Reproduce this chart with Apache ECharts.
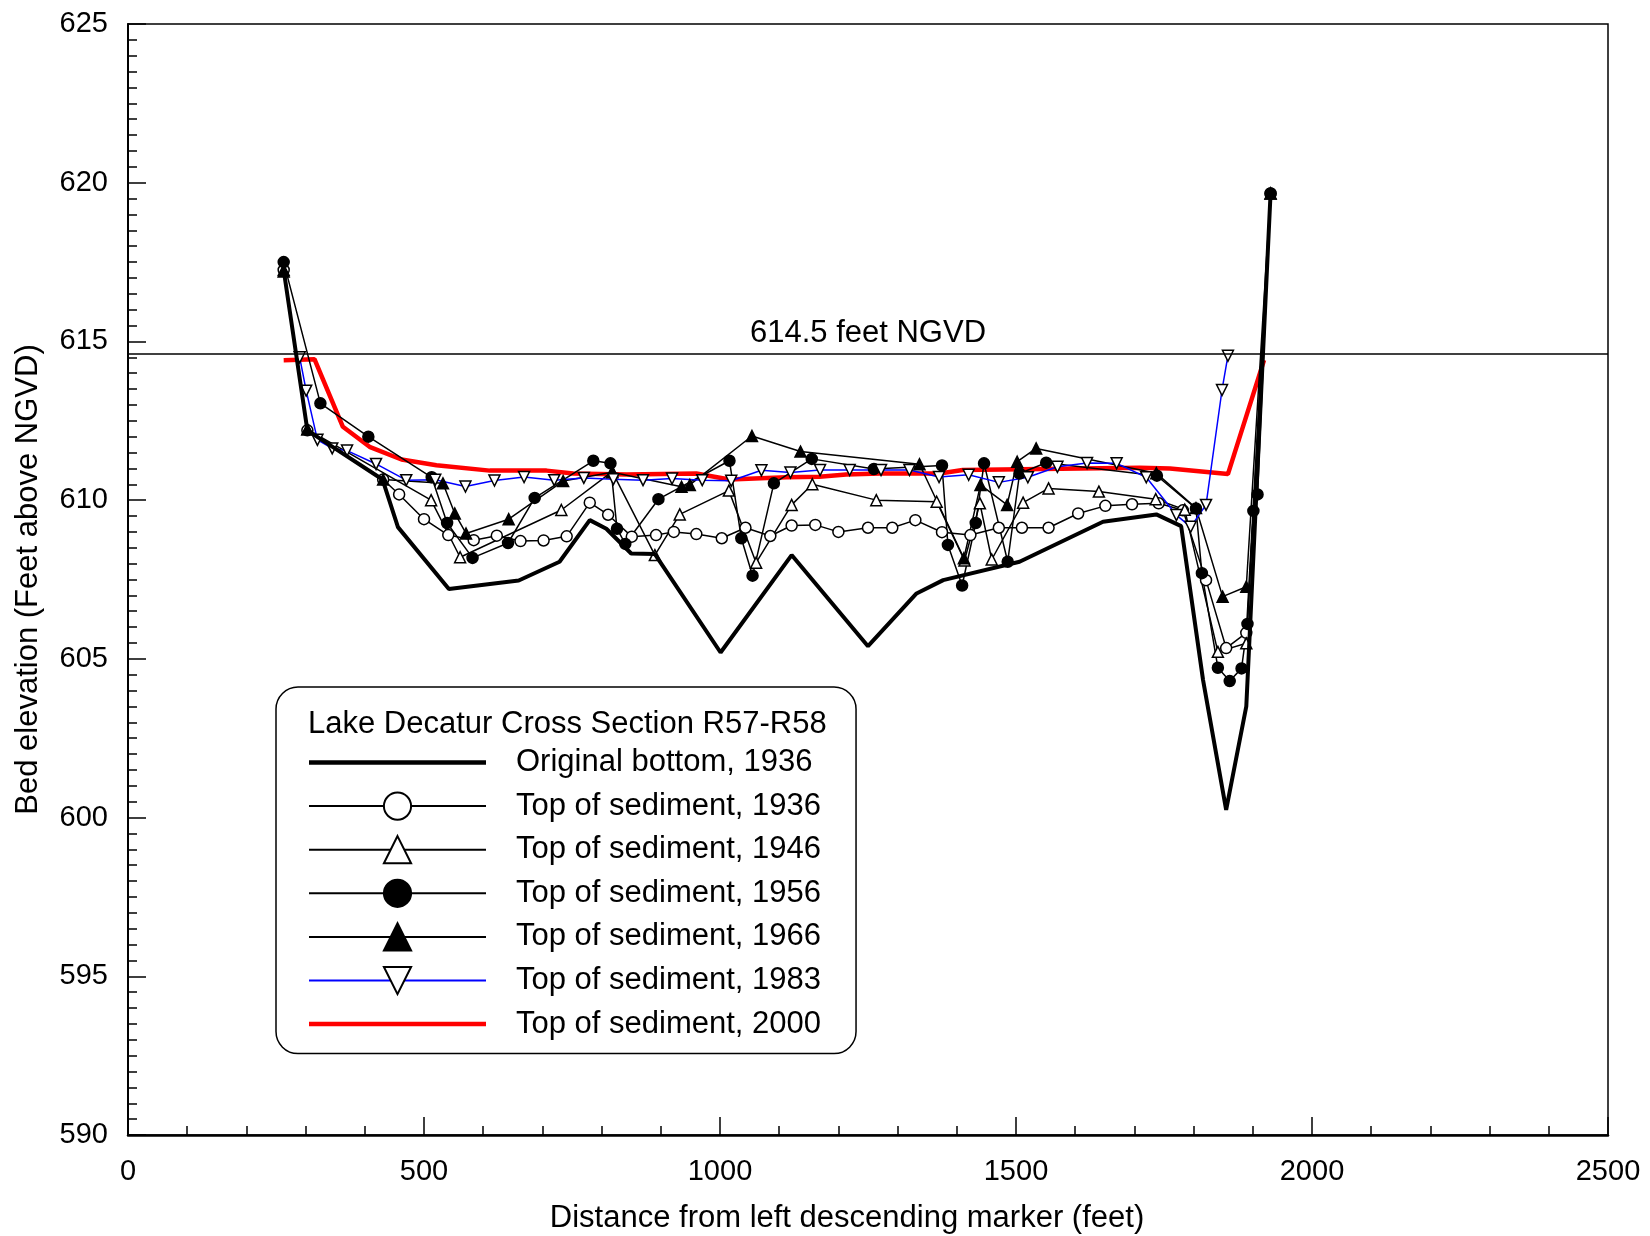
<!DOCTYPE html>
<html>
<head>
<meta charset="utf-8">
<script src="https://cdn.jsdelivr.net/npm/echarts@6/dist/echarts.min.js"></script>
<style>
  html, body { margin: 0; padding: 0; background: #fff; }
  #chart { width: 1650px; height: 1236px; }
</style>
</head>
<body>
<div id="chart"></div>
<script>
// Lake Decatur cross section R57-R58, bed elevation vs distance
const FONT = '"Liberation Sans", Arial, Helvetica, sans-serif';
const BLACK = '#000';

const xTicks = { min: 0, max: 2500, interval: 500 };
const yTicks = { min: 590, max: 625, interval: 5 };
const NGVD_LEVEL = 614.6;
const NGVD_LABEL = '614.5 feet NGVD';
const LEGEND_TITLE = 'Lake Decatur Cross Section R57-R58';

const names = [
  'Original bottom, 1936',
  'Top of sediment, 1936',
  'Top of sediment, 1946',
  'Top of sediment, 1956',
  'Top of sediment, 1966',
  'Top of sediment, 1983',
  'Top of sediment, 2000'
];

const bottom1936 = [
  [263, 617.25], [303, 612.2], [430, 610.65], [456, 609.15], [542, 607.2], [660, 607.47],
  [729, 608.06], [780, 609.37], [808, 609.1], [850, 608.32], [890, 608.3], [1001, 605.2],
  [1121, 608.27], [1250, 605.4], [1332, 607.06], [1377, 607.48], [1506, 608.06], [1647, 609.32],
  [1737, 609.55], [1779, 609.18], [1816, 604.33], [1855, 600.24], [1889, 603.5], [1930, 619.66]
];

const sed1936 = [
  [263, 617.25], [303, 612.2], [431, 610.65], [458, 610.18], [500, 609.4], [541, 608.9],
  [584, 608.74], [623, 608.88], [663, 608.71], [702, 608.73], [741, 608.86], [780, 609.92],
  [811, 609.54], [851, 608.85], [892, 608.9], [922, 609.0], [960, 608.93], [1003, 608.8],
  [1043, 609.13], [1085, 608.87], [1121, 609.2], [1161, 609.22], [1200, 609.0], [1250, 609.13],
  [1291, 609.13], [1330, 609.37], [1375, 608.99], [1423, 608.9], [1471, 609.13], [1510, 609.13],
  [1555, 609.13], [1605, 609.58], [1651, 609.82], [1696, 609.87], [1741, 609.9], [1782, 609.68],
  [1821, 607.48], [1855, 605.34], [1889, 605.82], [1930, 619.66]
];

const sed1946 = [
  [263, 617.25], [303, 612.23], [512, 610.0], [561, 608.2], [732, 609.69], [818, 610.9],
  [890, 608.27], [932, 609.55], [1015, 610.3], [1061, 608.03], [1121, 609.85], [1156, 610.5],
  [1264, 610.0], [1366, 609.95], [1413, 608.1], [1439, 609.9], [1459, 608.13], [1512, 609.92],
  [1555, 610.37], [1640, 610.27], [1736, 610.03], [1785, 609.7], [1841, 605.22], [1889, 605.49],
  [1930, 619.66]
];

const sed1956 = [
  [263, 617.5], [325, 613.05], [406, 612.0], [513, 610.72], [539, 609.28], [582, 608.18],
  [642, 608.65], [687, 610.07], [786, 611.24], [815, 611.16], [826, 609.1], [840, 608.62],
  [896, 610.03], [1016, 611.24], [1036, 608.8], [1055, 607.62], [1091, 610.53], [1155, 611.3],
  [1260, 610.98], [1375, 611.09], [1385, 608.59], [1409, 607.31], [1432, 609.28], [1446, 611.16],
  [1486, 608.06], [1506, 610.84], [1551, 611.18], [1738, 610.77], [1804, 609.74], [1814, 607.7],
  [1841, 604.72], [1861, 604.3], [1881, 604.7], [1891, 606.1], [1901, 609.66], [1908, 610.18],
  [1930, 619.66]
];

const sed1966 = [
  [263, 617.2], [303, 612.23], [431, 610.65], [532, 610.53], [552, 609.58], [571, 608.95],
  [643, 609.4], [735, 610.6], [818, 610.88], [935, 610.42], [949, 610.48], [1054, 612.02],
  [1136, 611.53], [1337, 611.13], [1412, 608.17], [1440, 610.48], [1485, 609.85], [1502, 611.21],
  [1534, 611.63], [1737, 610.85], [1804, 609.75], [1849, 606.96], [1889, 607.27], [1930, 619.66]
];

const sed1983 = [
  [290, 614.5], [301, 613.45], [320, 611.9], [345, 611.63], [370, 611.56], [419, 611.14],
  [470, 610.63], [519, 610.64], [570, 610.43], [619, 610.62], [669, 610.73], [720, 610.63],
  [770, 610.7], [820, 610.66], [870, 610.63], [919, 610.68], [970, 610.63], [1019, 610.61],
  [1070, 610.94], [1119, 610.87], [1169, 610.95], [1219, 610.95], [1272, 610.95], [1320, 610.95],
  [1370, 610.73], [1420, 610.8], [1471, 610.56], [1520, 610.72], [1570, 611.05], [1620, 611.17],
  [1670, 611.16], [1720, 610.72], [1771, 609.53], [1795, 609.16], [1821, 609.85], [1848, 613.47],
  [1858, 614.55]
];

const sed2000 = [
  [263, 614.41], [315, 614.44], [363, 612.31], [408, 611.68], [462, 611.28], [521, 611.1],
  [611, 610.93], [707, 610.93], [752, 610.84], [842, 610.81], [960, 610.84], [1016, 610.65],
  [1112, 610.72], [1168, 610.74], [1213, 610.81], [1270, 610.84], [1371, 610.84], [1410, 610.95],
  [1709, 611.02], [1760, 611.0], [1858, 610.82], [1919, 614.41]
];

const fontSize = 29;
const titleSize = 31;
const BAR_ICON = 'path://M0,0H177V4.5H0Z';

const chart = echarts.init(document.getElementById('chart'));

const markerSeries = (name, data, symbol, fill, rotate) => ({
  name,
  type: 'line',
  data,
  symbol,
  symbolSize: 11,
  symbolRotate: rotate || 0,
  itemStyle: { color: fill, borderColor: BLACK, borderWidth: 1.5 },
  lineStyle: { color: BLACK, width: 1.5 },
  z: 3
});

const s1983 = markerSeries(names[5], sed1983, 'triangle', '#fff', 180);
s1983.lineStyle = { color: '#0000ff', width: 1.5 };

chart.setOption({
  animation: false,
  backgroundColor: '#fff',
  textStyle: { fontFamily: FONT, color: BLACK },
  grid: {
    left: 128,
    right: 42,
    top: 24,
    bottom: 101,
    outerBoundsMode: 'none',
    containLabel: false,
    show: true,
    borderColor: BLACK,
    borderWidth: 1.5
  },
  legend: {
    orient: 'vertical',
    left: 276,
    top: 687,
    padding: [60, 35, 14, 32],
    backgroundColor: '#fff',
    borderColor: BLACK,
    borderWidth: 1.5,
    borderRadius: 22,
    itemWidth: 177,
    itemHeight: 34,
    itemGap: 12.6,
    selectedMode: false,
    symbolRotate: 'inherit',
    textStyle: {
      fontFamily: FONT,
      fontSize: titleSize,
      color: BLACK,
      padding: [0, 0, 0, 25]
    },
    data: [
      { name: names[0], icon: BAR_ICON },
      names[1], names[2], names[3], names[4], names[5],
      { name: names[6], icon: BAR_ICON }
    ]
  },
  graphic: [
    {
      type: 'text',
      left: 308,
      top: 709,
      z: 100,
      style: { text: LEGEND_TITLE, font: titleSize + 'px ' + FONT, fill: BLACK }
    }
  ],
  xAxis: {
    type: 'value',
    min: xTicks.min,
    max: xTicks.max,
    interval: xTicks.interval,
    name: 'Distance from left descending marker (feet)',
    nameLocation: 'middle',
    nameGap: 68,
    nameTextStyle: { fontSize: titleSize, color: BLACK, fontFamily: FONT, padding: [0, 42, 0, 0] },
    axisLine: { onZero: false, lineStyle: { color: BLACK, width: 2.5 } },
    axisTick: { inside: true, length: 18, lineStyle: { color: BLACK, width: 1.5 } },
    minorTick: { show: true, splitNumber: 5, length: 9, lineStyle: { color: BLACK, width: 1.5 } },
    axisLabel: { fontSize, color: BLACK, fontFamily: FONT, margin: 22, formatter: v => String(v) },
    splitLine: { show: false }
  },
  yAxis: {
    type: 'value',
    min: yTicks.min,
    max: yTicks.max,
    interval: yTicks.interval,
    name: 'Bed elevation (Feet above NGVD)',
    nameLocation: 'middle',
    nameGap: 84,
    nameTextStyle: { fontSize: titleSize, color: BLACK, fontFamily: FONT },
    axisLine: { show: true, onZero: false, lineStyle: { color: BLACK, width: 2 } },
    axisTick: { show: true, inside: true, length: 18, lineStyle: { color: BLACK, width: 1.5 } },
    minorTick: { show: true, splitNumber: 10, length: 9, lineStyle: { color: BLACK, width: 1.5 } },
    axisLabel: { fontSize, color: BLACK, fontFamily: FONT, margin: 20, formatter: v => String(v) },
    splitLine: { show: false }
  },
  series: [
    {
      name: names[0],
      type: 'line',
      data: bottom1936,
      symbol: 'none',
      itemStyle: { color: BLACK },
      lineStyle: { color: BLACK, width: 4 },
      z: 4,
      markLine: {
        silent: true,
        symbol: 'none',
        lineStyle: { color: BLACK, width: 1.5, type: 'solid' },
        label: {
          position: 'middle',
          formatter: NGVD_LABEL,
          fontSize: titleSize,
          fontFamily: FONT,
          color: BLACK,
          distance: 5
        },
        data: [{ yAxis: NGVD_LEVEL }]
      }
    },
    markerSeries(names[1], sed1936, 'circle', '#fff'),
    markerSeries(names[2], sed1946, 'triangle', '#fff'),
    markerSeries(names[3], sed1956, 'circle', BLACK),
    markerSeries(names[4], sed1966, 'triangle', BLACK),
    s1983,
    {
      name: names[6],
      type: 'line',
      data: sed2000,
      symbol: 'none',
      itemStyle: { color: '#ff0000' },
      lineStyle: { color: '#ff0000', width: 4.5 },
      z: 2
    }
  ]
});
</script>
</body>
</html>
